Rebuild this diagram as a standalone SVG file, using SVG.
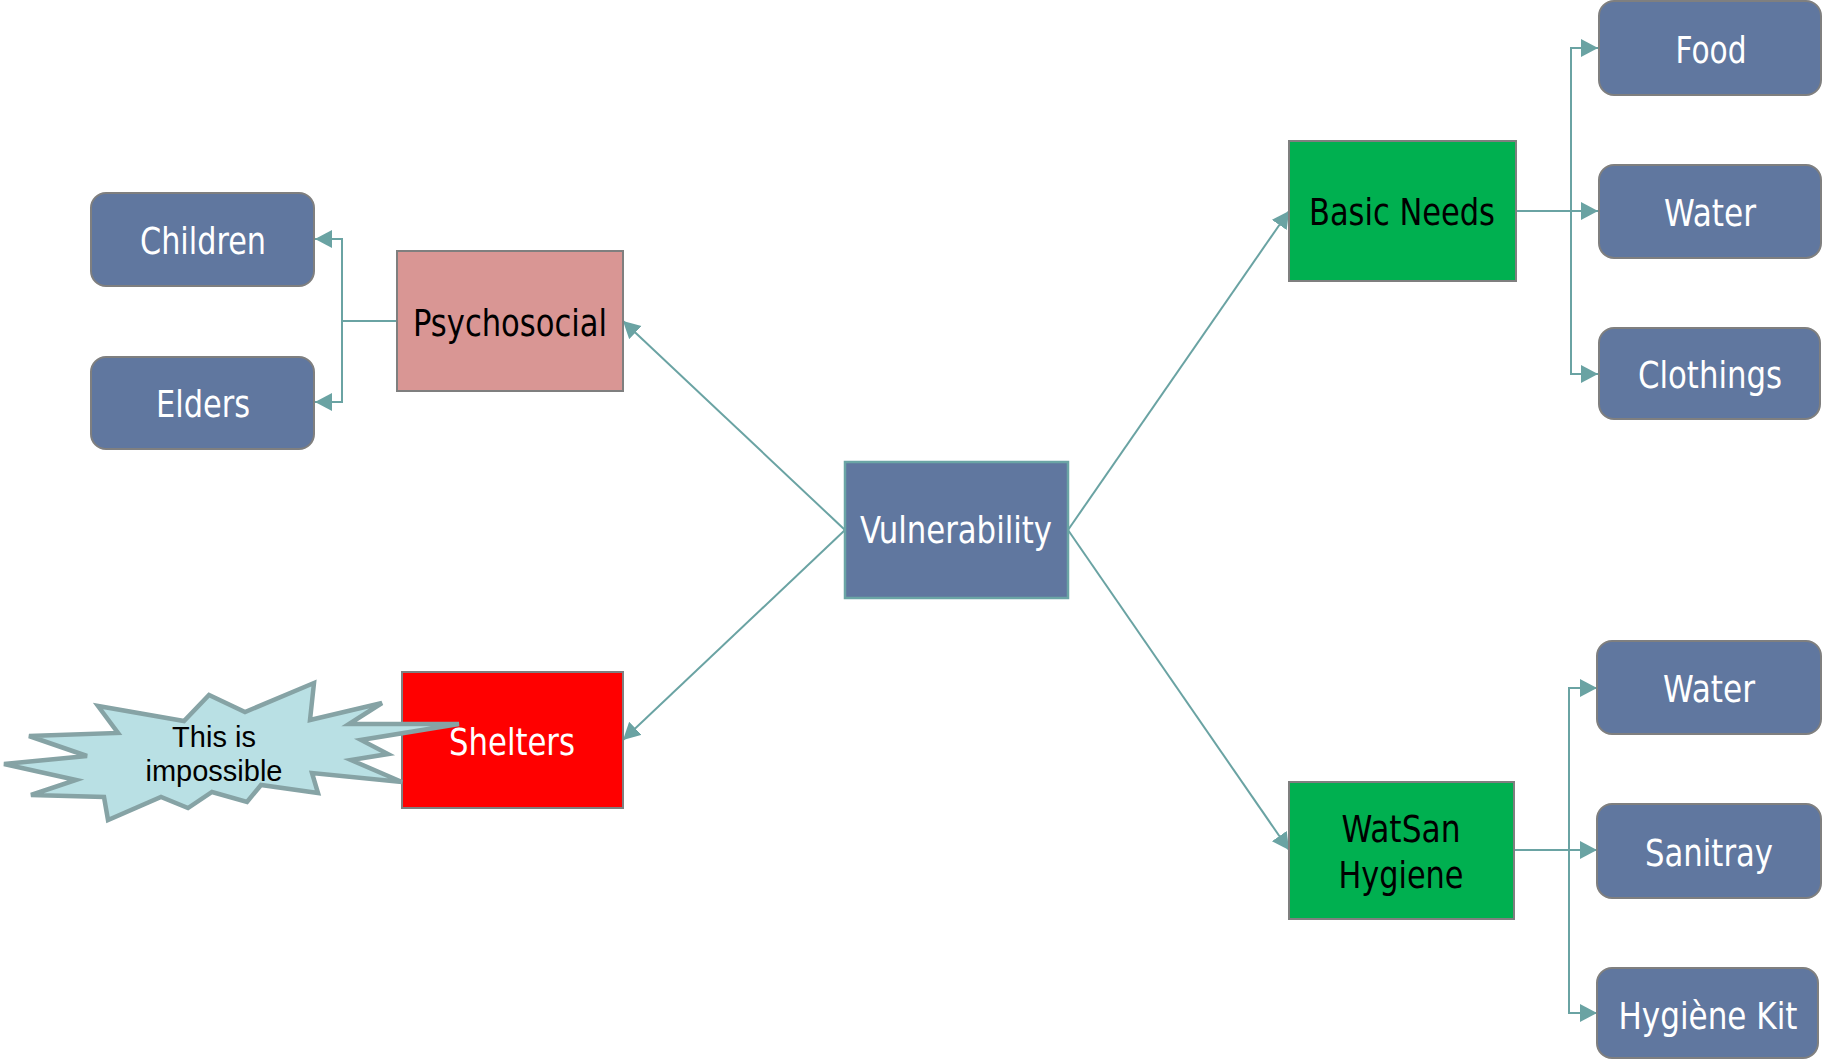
<svg xmlns="http://www.w3.org/2000/svg" width="1823" height="1059" viewBox="0 0 1823 1059">
<style>
.bg{fill:#ffffff}
.leaf{fill:#60779f;stroke:#7f7f7f;stroke-width:2}
.green{fill:#00b050;stroke:#7f7f7f;stroke-width:2}
.pink{fill:#d99694;stroke:#7f7f7f;stroke-width:2}
.red{fill:#ff0000;stroke:#7f7f7f;stroke-width:2}
.core{fill:#60779f;stroke:#6aa5a5;stroke-width:2.5}
.t{font-family:"DejaVu Sans Condensed","DejaVu Sans",sans-serif;font-size:38px;text-anchor:middle}
.w{fill:#ffffff}
.k{fill:#000000}
.conn path{fill:none;stroke:#6aa3a3;stroke-width:2}
.burst{fill:#b9e0e4;stroke:#86a3a5;stroke-width:4.5;stroke-linejoin:miter}
.bt{font-family:"Liberation Sans",Arial,sans-serif;font-size:29px;fill:#000;text-anchor:middle}
</style>
<defs>
<marker id="ah" markerUnits="userSpaceOnUse" markerWidth="18" markerHeight="19" refX="17" refY="9" orient="auto">
<path d="M0,0 L17,9 L0,18 Z" fill="#6aa3a3"/>
</marker>
</defs>
<rect class="bg" x="0" y="0" width="1823" height="1059"/>
<g id="connectors" class="conn">
<path d="M845,530 L623,321" marker-end="url(#ah)"/>
<path d="M845,530 L623,740" marker-end="url(#ah)"/>
<path d="M1068,530 L1289,211" marker-end="url(#ah)"/>
<path d="M1068,530 L1289,850" marker-end="url(#ah)"/>
<path d="M397,321 L342,321 L342,239 L315,239" marker-end="url(#ah)"/>
<path d="M342,321 L342,402 L315,402" marker-end="url(#ah)"/>
<path d="M1516,211 L1571,211 L1571,48 L1598,48" marker-end="url(#ah)"/>
<path d="M1571,211 L1598,211" marker-end="url(#ah)"/>
<path d="M1571,211 L1571,374 L1598,374" marker-end="url(#ah)"/>
<path d="M1514,850 L1569,850 L1569,688 L1597,688" marker-end="url(#ah)"/>
<path d="M1569,850 L1597,850" marker-end="url(#ah)"/>
<path d="M1569,850 L1569,1013 L1597,1013" marker-end="url(#ah)"/>
</g>
<g id="vulnerability">
<rect class="core" x="845" y="462" width="223" height="136"/>
<text class="t w" x="956" y="543" textLength="192" lengthAdjust="spacingAndGlyphs">Vulnerability</text>
</g>
<g id="psychosocial">
<rect class="pink" x="397" y="251" width="226" height="140"/>
<text class="t k" x="510" y="336" textLength="194" lengthAdjust="spacingAndGlyphs">Psychosocial</text>
</g>
<g id="children">
<rect class="leaf" x="91" y="193" width="223" height="93" rx="15"/>
<text class="t w" x="203" y="254" textLength="126" lengthAdjust="spacingAndGlyphs">Children</text>
</g>
<g id="elders">
<rect class="leaf" x="91" y="357" width="223" height="92" rx="15"/>
<text class="t w" x="203" y="417" textLength="94" lengthAdjust="spacingAndGlyphs">Elders</text>
</g>
<g id="shelters">
<rect class="red" x="402" y="672" width="221" height="136"/>
<text class="t w" x="512" y="755" textLength="126" lengthAdjust="spacingAndGlyphs">Shelters</text>
</g>
<g id="callout">
<polygon class="burst" points="4,764 87,756 29,736 118,733 98,706 184,721 209,695 245,712 314,683 310,720 382,703 349,724 459,724 361,740 388,754 351,760 402,782 312,773 318,793 261,785 247,802 212,792 188,808 161,797 108,820 104,797 31,795 76,780"/>
<text class="bt" x="214" y="747">This is</text>
<text class="bt" x="214" y="781">impossible</text>
</g>
<g id="basic-needs">
<rect class="green" x="1289" y="141" width="227" height="140"/>
<text class="t k" x="1402" y="225" textLength="186" lengthAdjust="spacingAndGlyphs">Basic Needs</text>
</g>
<g id="food">
<rect class="leaf" x="1599" y="1" width="222" height="94" rx="15"/>
<text class="t w" x="1711" y="63" textLength="71" lengthAdjust="spacingAndGlyphs">Food</text>
</g>
<g id="water-1">
<rect class="leaf" x="1599" y="165" width="222" height="93" rx="15"/>
<text class="t w" x="1710" y="226" textLength="92" lengthAdjust="spacingAndGlyphs">Water</text>
</g>
<g id="clothings">
<rect class="leaf" x="1599" y="328" width="221" height="91" rx="15"/>
<text class="t w" x="1710" y="388" textLength="144" lengthAdjust="spacingAndGlyphs">Clothings</text>
</g>
<g id="watsan">
<rect class="green" x="1289" y="782" width="225" height="137"/>
<text class="t k" x="1401" y="842" textLength="119" lengthAdjust="spacingAndGlyphs">WatSan</text>
<text class="t k" x="1401" y="888" textLength="125" lengthAdjust="spacingAndGlyphs">Hygiene</text>
</g>
<g id="water-2">
<rect class="leaf" x="1597" y="641" width="224" height="93" rx="15"/>
<text class="t w" x="1709" y="702" textLength="92" lengthAdjust="spacingAndGlyphs">Water</text>
</g>
<g id="sanitray">
<rect class="leaf" x="1597" y="804" width="224" height="94" rx="15"/>
<text class="t w" x="1709" y="866" textLength="128" lengthAdjust="spacingAndGlyphs">Sanitray</text>
</g>
<g id="hygiene-kit">
<rect class="leaf" x="1597" y="968" width="221" height="90" rx="15"/>
<text class="t w" x="1708" y="1029" textLength="179" lengthAdjust="spacingAndGlyphs">Hygiène Kit</text>
</g>
</svg>
